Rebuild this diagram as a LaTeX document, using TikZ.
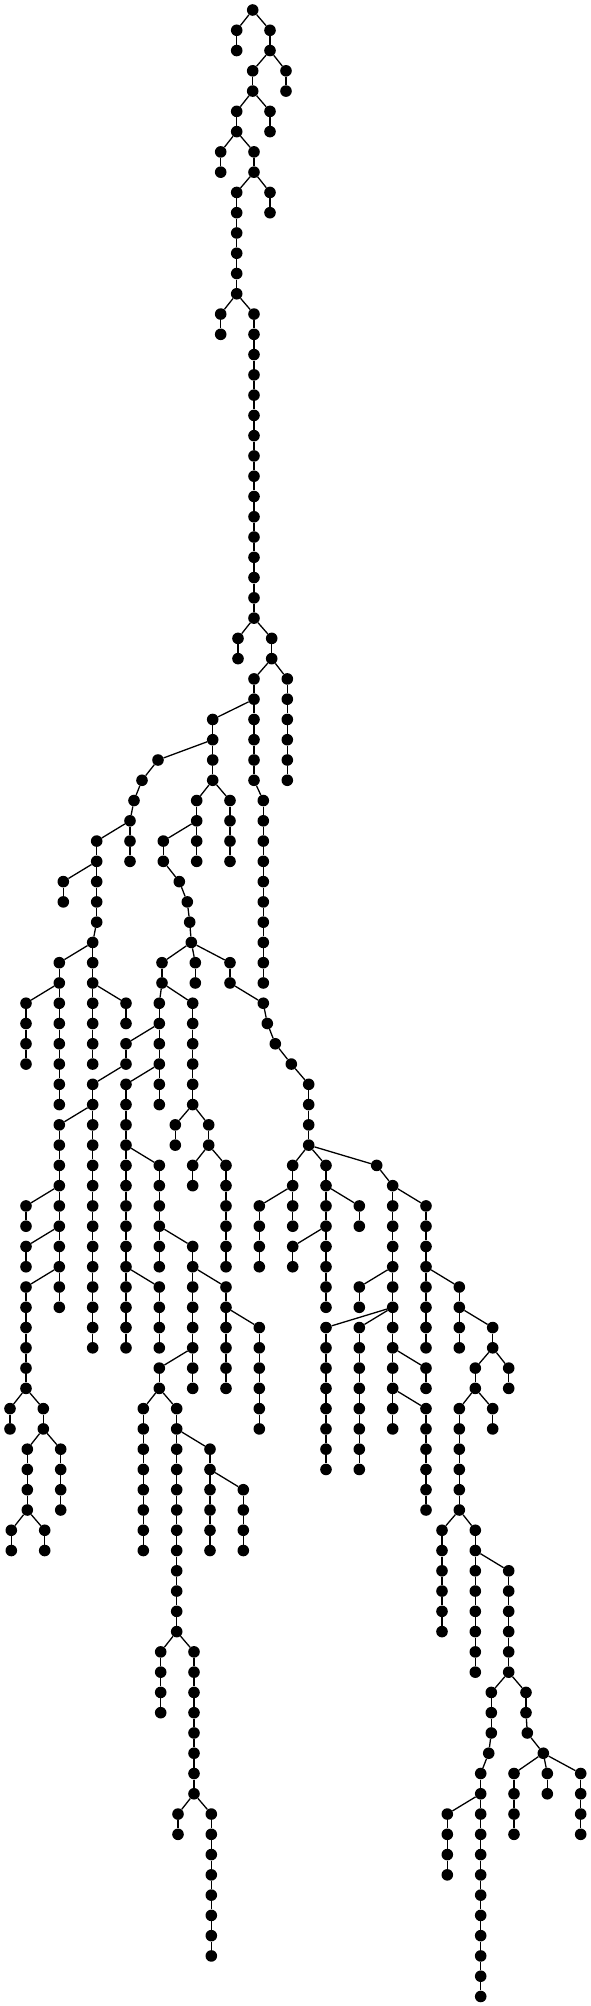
\documentclass[tikz,border=0pt]{standalone}
\tikzset{
  dotnode/.style={circle,fill=black,draw=none,inner sep=0pt,minimum size=11.6pt},
  edge/.style={draw=black,line width=1.3pt}
}
\newcommand\Nd[3]{\node[dotnode] (#1) at (#2,{-(10+20.27*#3)}) {};}
\newcommand\Ch[5]{%
  \foreach \lv in {#4,...,#5}{\node[dotnode] (#1-\lv) at (#3,{-(10+20.27*\lv)}) {};}%
  \draw[edge] (#2) -- (#1-#4);%
  \foreach \lv [remember=\lv as \pv (initially #4)] in {#4,...,#5}{\ifnum\lv>#4 \draw[edge] (#1-\pv) -- (#1-\lv);\fi}%
}
\begin{document}
\begin{tikzpicture}[x=1pt,y=1pt]
\path[fill=white,use as bounding box] (0,0) rectangle (591,-2006);
\Nd{r}{252.7}{0}
\Ch{a}{r}{236.7}{1}{2}
\Ch{b}{r}{270}{1}{2}
\Ch{c}{b-2}{252.7}{3}{4}
\Ch{d}{b-2}{286}{3}{4}
\Ch{e}{c-4}{236.7}{5}{6}
\Ch{f}{c-4}{270}{5}{6}
\Ch{g}{e-6}{220.7}{7}{8}
\Ch{h}{e-6}{254}{7}{8}
\Ch{i}{h-8}{236.7}{9}{14}
\Ch{j}{h-8}{270}{9}{10}
\Ch{k}{i-14}{220.7}{15}{16}
\Ch{m}{i-14}{254}{15}{30}
\Ch{n}{m-30}{238}{31}{32}
\Ch{o}{m-30}{271.7}{31}{32}
\Ch{p}{o-32}{254}{33}{38}
\Ch{q}{o-32}{287.3}{33}{38}
\Ch{s}{p-38}{263.3}{39}{48}
\Ch{t}{p-34}{212.7}{35}{38}
\Ch{u}{t-36}{158}{37}{37}
\Ch{v}{u-37}{142}{38}{38}
\Ch{w}{v-38}{134}{39}{39}
\Ch{x}{w-39}{130}{40}{42}
\Ch{y}{x-40}{96.7}{41}{45}
\Ch{z}{y-42}{63.3}{43}{44}
\Ch{aa}{y-45}{92.7}{46}{52}
\Ch{ab}{aa-46}{59.3}{47}{54}
\Ch{ac}{aa-48}{126}{49}{50}
\Ch{ad}{ab-48}{26}{49}{52}
\Ch{ae}{t-38}{230}{39}{42}
\Ch{af}{t-38}{196.7}{39}{42}
\Ch{ag}{af-40}{163.3}{41}{42}
\Ch{ah}{ag-42}{179.3}{43}{43}
\Ch{ai}{ah-43}{187.3}{44}{44}
\Ch{aj}{ai-44}{189.7}{45}{45}
\Ch{ak}{aj-45}{191.3}{46}{46}
\Ch{al}{ak-46}{162}{47}{48}
\Ch{am}{ak-46}{195.3}{47}{48}
\Ch{an}{ak-46}{230}{47}{48}
\Ch{ao}{an-48}{263.3}{49}{49}
\Ch{ap}{ao-49}{267.3}{50}{50}
\Ch{aq}{ap-50}{275.3}{51}{51}
\Ch{ar}{aq-51}{291.3}{52}{52}
\Ch{as}{ar-52}{308.7}{53}{56}
\Ch{at}{al-48}{159.3}{49}{54}
\Ch{au}{al-48}{192.7}{49}{54}
\Ch{av}{au-54}{175.3}{55}{56}
\Ch{aw}{au-54}{208.7}{55}{56}
\Ch{ax}{aw-56}{192.7}{57}{58}
\Ch{ay}{aw-56}{226}{57}{62}
\Ch{az}{at-50}{126}{51}{52}
\Ch{ba}{az-52}{92.7}{53}{66}
\Ch{bb}{at-52}{126}{53}{66}
\Ch{bc}{ba-54}{59.3}{55}{64}
\Ch{bd}{bc-58}{26}{59}{60}
\Ch{be}{bc-60}{26}{61}{62}
\Ch{bf}{bc-62}{26}{63}{68}
\Ch{bg}{bf-68}{10}{69}{70}
\Ch{bh}{bf-68}{43.3}{69}{70}
\Ch{bi}{bh-70}{27.3}{71}{74}
\Ch{bj}{bh-70}{60.7}{71}{74}
\Ch{bk}{bi-74}{11.3}{75}{76}
\Ch{bl}{bi-74}{44.7}{75}{76}
\Ch{bm}{bb-56}{159.3}{57}{62}
\Ch{bn}{bm-60}{192.7}{61}{68}
\Ch{bo}{bb-62}{159.3}{63}{66}
\Ch{bp}{bn-62}{226}{63}{68}
\Ch{bq}{bp-64}{259.3}{65}{70}
\Ch{br}{bn-66}{159.3}{67}{68}
\Ch{bs}{br-68}{143.3}{69}{76}
\Ch{bt}{br-68}{176.7}{69}{80}
\Ch{bu}{bt-70}{210}{71}{76}
\Ch{bv}{bu-72}{243.3}{73}{76}
\Ch{bw}{bt-80}{160.7}{81}{84}
\Ch{bx}{bt-80}{194}{81}{88}
\Ch{by}{bx-88}{178}{89}{90}
\Ch{bz}{bx-88}{211.3}{89}{96}
\Ch{ca}{as-56}{292.7}{57}{60}
\Ch{cb}{ca-58}{259.3}{59}{62}
\Ch{cc}{as-56}{326}{57}{64}
\Ch{cd}{cc-58}{359.3}{59}{60}
\Ch{ce}{cc-60}{292.7}{61}{62}
\Ch{cf}{as-56}{376.7}{57}{57}
\Ch{cg}{cf-57}{392.7}{58}{70}
\Ch{ch}{cg-58}{426}{59}{66}
\Ch{ci}{cg-62}{359.3}{63}{64}
\Ch{cj}{cg-64}{326}{65}{72}
\Ch{ck}{cg-64}{359.3}{65}{72}
\Ch{cl}{cg-66}{426}{67}{68}
\Ch{cm}{cg-68}{426}{69}{74}
\Ch{cn}{ch-62}{459.3}{63}{66}
\Ch{co}{cn-64}{492.7}{65}{66}
\Ch{cp}{co-66}{475.3}{67}{68}
\Ch{cq}{co-66}{508.7}{67}{68}
\Ch{cr}{cp-68}{459.3}{69}{74}
\Ch{cs}{cp-68}{492.7}{69}{70}
\Ch{ct}{cr-74}{442}{75}{80}
\Ch{cu}{cr-74}{475.3}{75}{82}
\Ch{cv}{cu-76}{508.7}{77}{82}
\Ch{cw}{cv-82}{491.3}{83}{85}
\Ch{cx}{cw-85}{488.7}{86}{86}
\Ch{cy}{cx-86}{480.7}{87}{98}
\Ch{cz}{cy-88}{447.3}{89}{92}
\Ch{da}{cv-82}{526}{83}{84}
\Ch{db}{da-84}{527.3}{85}{85}
\Ch{dc}{db-85}{543.3}{86}{86}
\Ch{dd}{dc-86}{514}{87}{90}
\Ch{de}{dc-86}{547.3}{87}{88}
\Ch{df}{dc-86}{580.7}{87}{90}
\end{tikzpicture}
\end{document}
